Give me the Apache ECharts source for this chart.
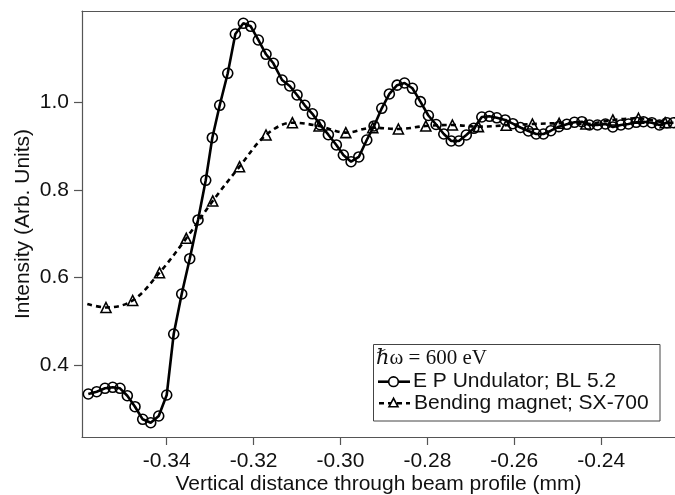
<!DOCTYPE html>
<html>
<head>
<meta charset="utf-8">
<script src="https://cdn.jsdelivr.net/npm/echarts@6/dist/echarts.min.js"></script>
<style>
html,body{margin:0;padding:0;background:#fff;}
#chart{width:675px;height:495px;}
</style>
</head>
<body>
<div id="chart"></div>
<script>
// ---- Data ----
var undX = [-0.35805,-0.35612,-0.35421,-0.35243,-0.35075,-0.34907,-0.34730,-0.34553,-0.34368,-0.34184,
  -0.34000,-0.33839,-0.33655,-0.33470,-0.33279,-0.33102,-0.32950,-0.32780,-0.32595,-0.32420,
  -0.32236,-0.32066,-0.31891,-0.31714,-0.31545,-0.31345,-0.31168,-0.31000,-0.30822,-0.30647,
  -0.30470,-0.30279,-0.30095,-0.29934,-0.29756,-0.29579,-0.29395,-0.29227,-0.29050,-0.28875,
  -0.28697,-0.28525,-0.28345,-0.28161,-0.27977,-0.27799,-0.27622,-0.27450,-0.27274,-0.27104,
  -0.26931,-0.26747,-0.26572,-0.26402,-0.26210,-0.26033,-0.25858,-0.25674,-0.25496,-0.25328,
  -0.25158,-0.24974,-0.24790,-0.24615,-0.24444,-0.24270,-0.24085,-0.23901,-0.23731,-0.23546,
  -0.23371,-0.23194,-0.23026,-0.22833,-0.22658,-0.22487,-0.22335];
var undY = [0.3337,0.3390,0.3467,0.3490,0.3467,0.3298,0.3047,0.2759,0.2682,0.2835,
  0.3314,0.4708,0.5621,0.6428,0.7312,0.8218,0.9191,0.9931,1.0662,1.1560,
  1.1804,1.1736,1.1423,1.1096,1.0891,1.0509,1.0372,1.0167,0.9931,0.9737,
  0.9488,0.9260,0.9025,0.8796,0.8643,0.8751,0.9139,0.9459,0.9863,1.0190,
  1.0391,1.0441,1.0320,1.0014,0.9698,0.9493,0.9276,0.9116,0.9116,0.9253,
  0.9406,0.9664,0.9680,0.9646,0.9596,0.9511,0.9424,0.9344,0.9276,0.9276,
  0.9351,0.9443,0.9497,0.9543,0.9557,0.9481,0.9481,0.9504,0.9436,0.9481,
  0.9504,0.9543,0.9557,0.9534,0.9481,0.9534,0.9534];

// Bending magnet: first and last entries are the ends of the dashed curve (no marker)
var bmX = [-0.35828,-0.35398,-0.34783,-0.34166,-0.33549,-0.32941,-0.32324,-0.31714,-0.31108,-0.30493,
  -0.29878,-0.29257,-0.28667,-0.28036,-0.27424,-0.26825,-0.26187,-0.25582,-0.24967,-0.24352,
  -0.23731,-0.23141,-0.22527,-0.22296];
var bmY = [0.5393,0.5313,0.5473,0.6108,0.6894,0.7746,0.8529,0.9253,0.9534,0.9459,
  0.9306,0.9420,0.9390,0.9459,0.9481,0.9443,0.9475,0.9504,0.9520,0.9504,
  0.9596,0.9635,0.9534,0.9527];

var xTicks = [-0.34,-0.32,-0.30,-0.28,-0.26,-0.24];
var yTicks = [0.4,0.6,0.8,1.0];

var seriesNames = ['E P Undulator; BL 5.2','Bending magnet; SX-700'];
var legendTitle = '\u210F\u03C9 = 600 eV';
var xTitle = 'Vertical distance through beam profile (mm)';
var yTitle = 'Intensity (Arb. Units)';

// ---- Build ----
var undData = undX.map(function(x,i){ return [x, undY[i]]; });
var bmData = bmX.map(function(x,i){
  var item = {value:[x, bmY[i]]};
  if (i === 0 || i === bmX.length-1) item.symbol = 'none';
  return item;
});

var FONT = '"Liberation Sans", Arial, Helvetica, sans-serif';
var FS = 21;
var chart = echarts.init(document.getElementById('chart'), null, {renderer:'canvas'});

var legX = 373.5, legY = 344.5, legW = 286.5, legH = 76.5;
var keyX1 = 378, keyX2 = 410, keyMid = 393.5;
var row1 = 358.5, row2 = 381.7, row3 = 403.3;

chart.setOption({
  animation:false,
  backgroundColor:'#fff',
  grid:{left:82, top:11, right:0, bottom:58, containLabel:false, outerBoundsMode:'none'},
  xAxis:[{
    type:'value', min:-0.3595, max:-0.223,
    name:xTitle, nameLocation:'middle', nameGap:37, nameMoveOverlap:false,
    nameTextStyle:{fontFamily:FONT, fontSize:FS, color:'#111'},
    axisLine:{show:true, onZero:false, lineStyle:{color:'#555', width:1.2}},
    axisTick:{show:true, inside:false, length:8, customValues:xTicks, lineStyle:{color:'#555', width:1.2}},
    axisLabel:{show:true, margin:14, customValues:xTicks, fontFamily:FONT, fontSize:FS, color:'#111',
      formatter:function(v){ return v.toFixed(2); }},
    splitLine:{show:false}
  },{
    type:'value', position:'top', min:-0.3595, max:-0.223,
    axisLine:{show:true, onZero:false, lineStyle:{color:'#555', width:1.2}},
    axisTick:{show:false}, axisLabel:{show:false}, splitLine:{show:false}
  }],
  yAxis:{
    type:'value', min:0.2355, max:1.2085,
    name:yTitle, nameLocation:'middle', nameGap:48, nameMoveOverlap:false,
    nameTextStyle:{fontFamily:FONT, fontSize:FS, color:'#111'},
    axisLine:{show:true, onZero:false, lineStyle:{color:'#555', width:1.2}},
    axisTick:{show:true, inside:false, length:8, customValues:yTicks, lineStyle:{color:'#555', width:1.2}},
    axisLabel:{show:true, margin:13, customValues:yTicks, fontFamily:FONT, fontSize:FS, color:'#111',
      formatter:function(v){ return v.toFixed(1); }},
    splitLine:{show:false}
  },
  series:[{
    name:seriesNames[0], type:'line', data:undData,
    symbol:'circle', symbolSize:10, showAllSymbol:true,
    itemStyle:{color:'rgba(0,0,0,0)', borderColor:'#000', borderWidth:1.6},
    lineStyle:{color:'#000', width:2.6}, z:3
  },{
    name:seriesNames[1], type:'line', data:bmData, smooth:0.35,
    symbol:'triangle', symbolSize:10, showAllSymbol:true,
    itemStyle:{color:'rgba(0,0,0,0)', borderColor:'#000', borderWidth:1.6},
    lineStyle:{color:'#000', width:2.6, type:[5,4]}, z:2
  }],
  graphic:[
    {type:'rect', shape:{x:legX, y:legY, width:legW, height:legH},
     style:{fill:'#fff', stroke:'#444', lineWidth:1}, z:10},
    {type:'text', x:376, y:row1, z:11,
     style:{text:legendTitle, font:FS + 'px "Liberation Serif", "DejaVu Serif", serif', fill:'#111', verticalAlign:'middle', align:'left'}},
    {type:'line', shape:{x1:keyX1, y1:row2, x2:keyX2, y2:row2}, style:{stroke:'#000', lineWidth:2.6}, z:11},
    {type:'circle', shape:{cx:keyMid, cy:row2, r:4.8}, style:{fill:'#fff', stroke:'#000', lineWidth:1.6}, z:12},
    {type:'text', x:413, y:row2, z:11,
     style:{text:seriesNames[0], font:FS + 'px ' + FONT, fill:'#111', verticalAlign:'middle', align:'left'}},
    {type:'line', shape:{x1:keyX1+1, y1:row3, x2:keyX2, y2:row3}, style:{stroke:'#000', lineWidth:2.6, lineDash:[5,4]}, z:11},
    {type:'polygon', shape:{points:[[keyMid,row3-5],[keyMid-4.5,row3+3.5],[keyMid+4.5,row3+3.5]]}, style:{fill:'#fff', stroke:'#000', lineWidth:1.6}, z:12},
    {type:'text', x:414, y:row3, z:11,
     style:{text:seriesNames[1], font:FS + 'px ' + FONT, fill:'#111', verticalAlign:'middle', align:'left'}}
  ]
});
</script>
</body>
</html>
